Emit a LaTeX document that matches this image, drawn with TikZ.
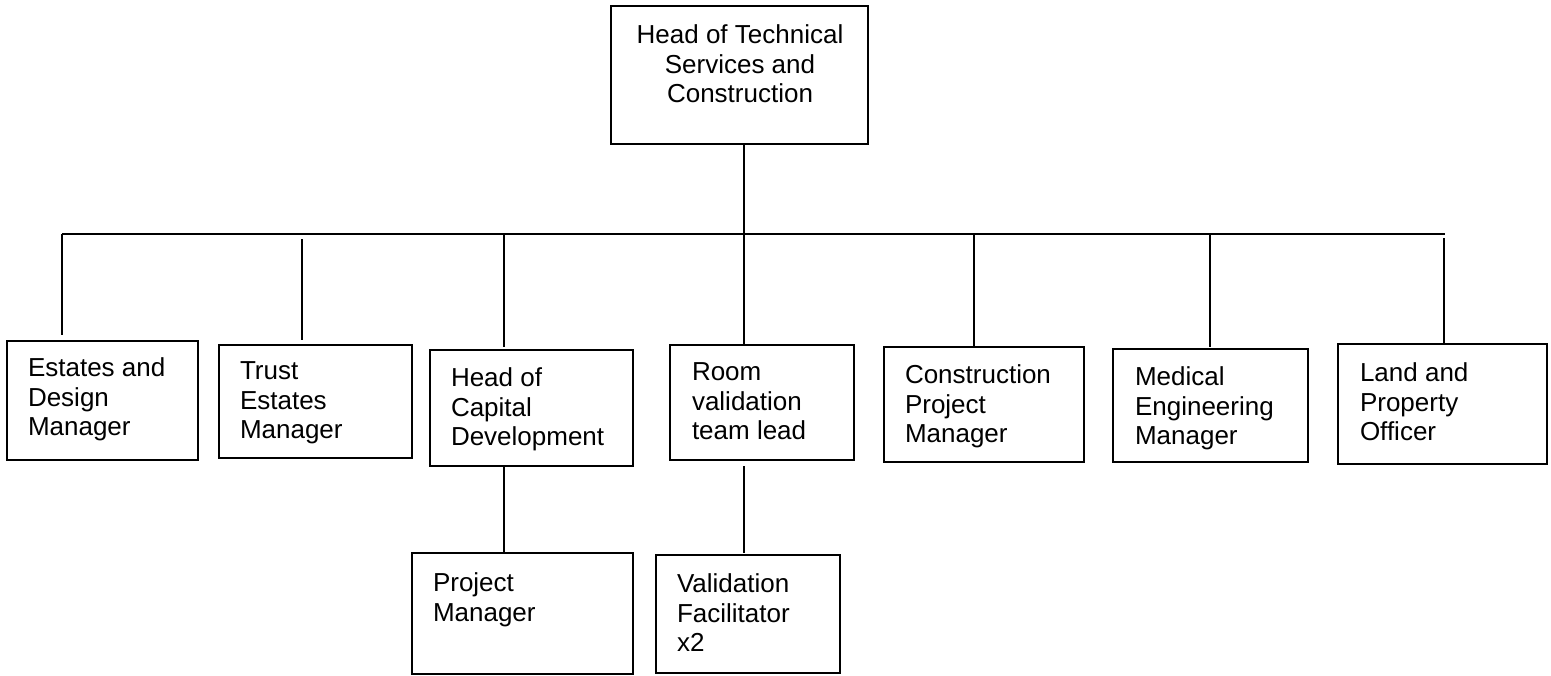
\documentclass[tikz,border=0pt]{standalone}
\usepackage{fontspec}
\setmainfont{Liberation Sans}
\usetikzlibrary{fit}
\begin{document}
\begin{tikzpicture}[x=0.75pt,y=-0.75pt,line width=1.4pt,
  box/.style={draw,rectangle,inner sep=0pt,outer sep=0pt},
  lbl/.style={inner sep=0pt,outer sep=0pt,anchor=north west,align=left,font=\fontsize{19.5}{22}\selectfont},
  link/.style={draw,line width=1.4pt}]
\useasboundingbox (0,0) rectangle (1551,675);
% boxes
\node[box,fit={(611,6) (868,144)}] (top) {};
\node[box,fit={(7,341) (198,460)}] (b1) {};
\node[box,fit={(219,345) (412,458)}] (b2) {};
\node[box,fit={(430,350) (633,466)}] (b3) {};
\node[box,fit={(670,345) (854,460)}] (b4) {};
\node[box,fit={(884,347) (1084,462)}] (b5) {};
\node[box,fit={(1113,349) (1308,462)}] (b6) {};
\node[box,fit={(1338,344) (1547,464)}] (b7) {};
\node[box,fit={(412,553) (633,674)}] (b8) {};
\node[box,fit={(656,555) (840,673)}] (b9) {};
% texts
\node[lbl,anchor=north,align=center] (ttop) at (740,25) {Head of Technical\\Services and\\Construction};
\node[lbl] (t1) at (28,358) {Estates and\\Design\\Manager};
\node[lbl] (t2) at (240,362) {Trust\\Estates\\Manager};
\node[lbl] (t3) at (451,368) {Head of\\Capital\\Development};
\node[lbl] (t4) at (692,363) {Room\\validation\\team lead};
\node[lbl] (t5) at (905,365) {Construction\\Project\\Manager};
\node[lbl] (t6) at (1135,367) {Medical\\Engineering\\Manager};
\node[lbl] (t7) at (1360,363) {Land and\\Property\\Officer};
\node[lbl] (t8) at (433,573) {Project\\Manager};
\node[lbl] (t9) at (677,574) {Validation\\Facilitator\\x2};
% connectors
\coordinate (busL) at (62,234);
\coordinate (busR) at (1445,234);
\coordinate (sp) at (744,0);
\coordinate (d1) at (62,234);
\coordinate (d2) at (302,239);
\coordinate (d3) at (504,233);
\coordinate (d5) at (974,233);
\coordinate (d6) at (1210,233);
\coordinate (d7) at (1444,238);
\coordinate (d8) at (504,0);
\coordinate (d9) at (744,466);
\draw[link] (busL) -- (busR);
\draw[link] (top.south -| sp) -- (sp |- b4.north);
\draw[link,shorten >=4.5pt] (d1) -- (d1 |- b1.north);
\draw[link,shorten >=3.75pt] (d2) -- (d2 |- b2.north);
\draw[link,shorten >=2.25pt] (d3) -- (d3 |- b3.north);
\draw[link] (d5) -- (d5 |- b5.north);
\draw[link,shorten >=1.5pt] (d6) -- (d6 |- b6.north);
\draw[link,shorten >=0.75pt] (d7) -- (d7 |- b7.north);
\draw[link] (b3.south -| d8) -- (d8 |- b8.north);
\draw[link,shorten >=1.5pt] (d9) -- (d9 |- b9.north);
\end{tikzpicture}
\end{document}
